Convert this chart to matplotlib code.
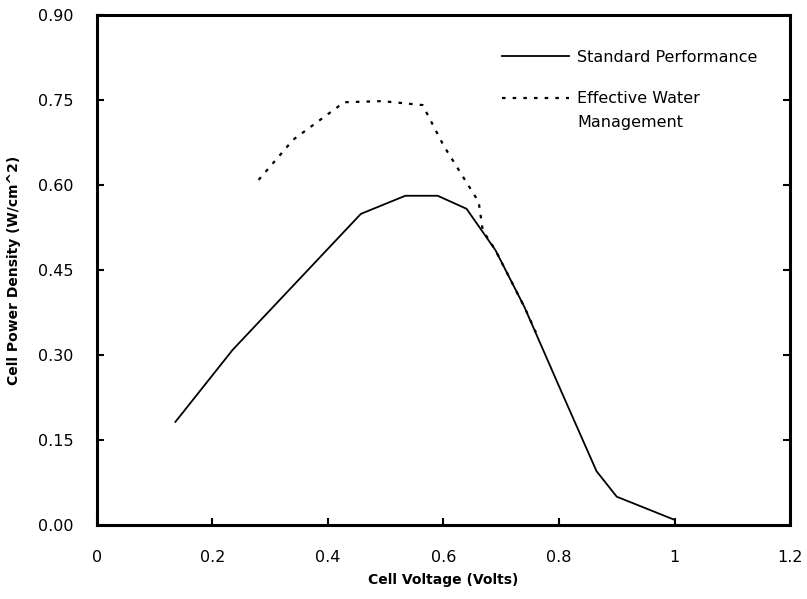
import numpy as np
import matplotlib.pyplot as plt

# standard performance curve
std_v = [0.136, 0.235, 0.457, 0.534, 0.590, 0.640, 0.690, 0.740, 0.800, 0.865, 0.900, 0.998]
std_p = [0.182, 0.309, 0.549, 0.581, 0.581, 0.558, 0.485, 0.385, 0.245, 0.095, 0.050, 0.010]

# effective water management curve
wat_v = [0.280, 0.340, 0.428, 0.494, 0.564, 0.600, 0.661, 0.668, 0.690, 0.740, 0.760]
wat_p = [0.609, 0.680, 0.746, 0.748, 0.741, 0.670, 0.570, 0.520, 0.485, 0.385, 0.340]

xticks = [0, 0.2, 0.4, 0.6, 0.8, 1, 1.2]
xtick_labels = ["0", "0.2", "0.4", "0.6", "0.8", "1", "1.2"]
yticks = [0.0, 0.15, 0.30, 0.45, 0.60, 0.75, 0.90]

plt.rcParams['font.family'] = ['DejaVu Sans']

fig = plt.figure(figsize=(8.07, 5.99), dpi=100)
ax = fig.add_axes([0.120, 0.1235, 0.859, 0.8515])

ax.plot(std_v, std_p, color='black', lw=1.3, label='Standard Performance')
ax.plot(wat_v, wat_p, color='black', lw=1.6, dashes=(1.6, 3.2),
        label='Effective Water')

ax.set_xlim(0, 1.2)
ax.set_ylim(0, 0.9)
ax.set_xticks(xticks)
ax.set_xticklabels(xtick_labels)
ax.set_yticks(yticks)
ax.set_yticklabels([f"{v:.2f}" for v in yticks])

for s in ax.spines.values():
    s.set_linewidth(2.2)

ax.tick_params(direction='in', length=5, width=1.5, labelsize=11.5, right=True)
ax.tick_params(axis='x', pad=18)
ax.tick_params(axis='y', pad=17)

ax.set_xlabel('Cell Voltage (Volts)', fontsize=10, fontweight='bold', labelpad=6)
ax.set_ylabel('Cell Power Density (W/cm^2)', fontsize=10, fontweight='bold', labelpad=12)

leg = ax.legend(loc='upper left', bbox_to_anchor=(0.564, 0.96), frameon=False,
                fontsize=11.5, handlelength=4.2, handletextpad=0.5, labelspacing=1.67)

# second line of the water label sits under the first, handle stays on line one
ax.annotate('Management', xy=(0, 0), xycoords=leg.get_texts()[1],
            xytext=(0, -9), textcoords='offset pixels',
            ha='left', va='top', fontsize=11.5, zorder=10)

fig.savefig('out.png', dpi=100)
